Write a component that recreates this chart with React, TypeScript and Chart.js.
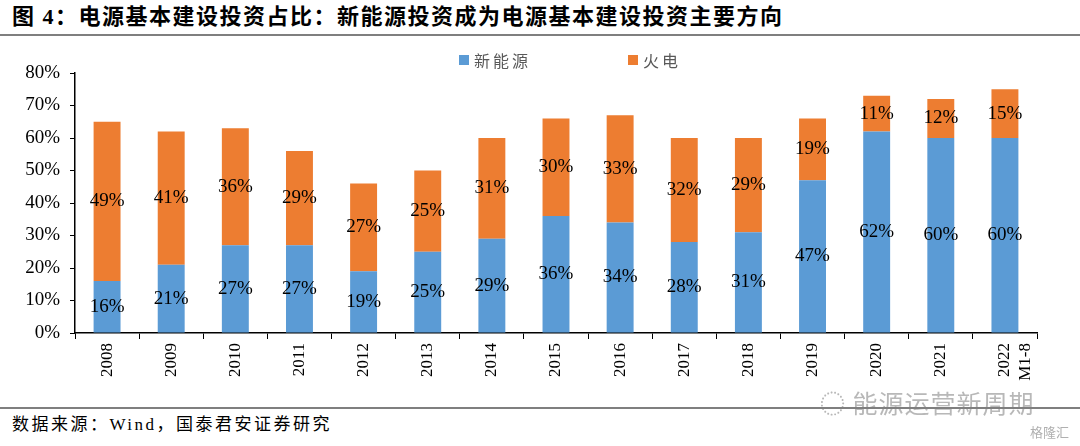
import React, { useEffect, useRef } from "react";
import { Chart, registerables } from "chart.js";

Chart.register(...registerables);

const categories: (string | string[])[] = [
  "2008", "2009", "2010", "2011", "2012", "2013", "2014", "2015",
  "2016", "2017", "2018", "2019", "2020", "2021", ["2022", "M1-8"],
];
const newEnergy = [16, 21, 27, 27, 19, 25, 29, 36, 34, 28, 31, 47, 62, 60, 60];
const thermal = [49, 41, 36, 29, 27, 25, 31, 30, 33, 32, 29, 19, 11, 12, 15];
const seriesNames = ["新能源", "火电"];
const seriesColors = ["#5B9BD5", "#ED7D31"];
const yMin = 0;
const yMax = 80;
const yStep = 10;

const serif = '"Liberation Serif", "Times New Roman", serif';
const cjk = '"Liberation Serif", "Noto Sans CJK SC", sans-serif';

const valueLabels = {
  id: "valueLabels",
  afterDatasetsDraw(chart: any) {
    const ctx = chart.ctx;
    ctx.save();
    ctx.font = `19px ${serif}`;
    ctx.fillStyle = "#000";
    ctx.textAlign = "center";
    ctx.textBaseline = "middle";
    chart.data.datasets.forEach((ds: any, i: number) => {
      const meta = chart.getDatasetMeta(i);
      meta.data.forEach((bar: any, j: number) => {
        const p = bar.getProps(["x", "y", "base"], true);
        ctx.fillText(`${ds.data[j]}%`, p.x, (p.y + p.base) / 2);
      });
    });
    ctx.restore();
  },
};

const customLegend = {
  id: "customLegend",
  afterDraw(chart: any) {
    const ctx = chart.ctx;
    const left = chart.chartArea.left;
    const starts = [left + 384, left + 553];
    const cy = 20;
    ctx.save();
    ctx.font = `16px "Noto Sans CJK SC", sans-serif`;
    ctx.textBaseline = "middle";
    ctx.textAlign = "left";
    (ctx as any).letterSpacing = "3px";
    chart.data.datasets.forEach((ds: any, i: number) => {
      const x = starts[i];
      ctx.fillStyle = ds.backgroundColor;
      ctx.fillRect(x, cy - 5, 10, 10);
      ctx.fillStyle = "#595959";
      ctx.fillText(ds.label, x + 15, cy + 1);
    });
    ctx.restore();
  },
};

export default function App() {
  const canvasRef = useRef<HTMLCanvasElement | null>(null);

  useEffect(() => {
    if (!canvasRef.current) return;
    const chart = new Chart(canvasRef.current, {
      type: "bar",
      data: {
        labels: categories,
        datasets: [
          { label: seriesNames[0], data: newEnergy, backgroundColor: seriesColors[0] },
          { label: seriesNames[1], data: thermal, backgroundColor: seriesColors[1] },
        ],
      },
      options: {
        animation: false,
        responsive: true,
        maintainAspectRatio: false,
        layout: { padding: { top: 33, right: 43, left: 0, bottom: 0 } },
        datasets: { bar: { categoryPercentage: 1, barPercentage: 0.42 } },
        plugins: { legend: { display: false }, tooltip: { enabled: false } },
        scales: {
          x: {
            stacked: true,
            offset: true,
            grid: {
              display: true,
              offset: true,
              drawOnChartArea: false,
              drawTicks: true,
              tickLength: 6,
              color: "#000",
            },
            border: { display: true, color: "#000", width: 1.5 },
            ticks: {
              color: "#000",
              font: { family: serif, size: 17 },
              maxRotation: 90,
              minRotation: 90,
              autoSkip: false,
              padding: 4,
            },
            afterFit(scale: any) {
              scale.height = 72;
            },
          },
          y: {
            stacked: true,
            min: yMin,
            max: yMax,
            grid: {
              display: true,
              drawOnChartArea: false,
              drawTicks: true,
              tickLength: 5,
              color: "#000",
            },
            border: { display: true, color: "#000", width: 1.5 },
            ticks: {
              stepSize: yStep,
              color: "#000",
              font: { family: serif, size: 19 },
              padding: 10,
              callback: (v: any) => `${v}%`,
            },
            afterFit(scale: any) {
              scale.width = 75;
            },
          },
        },
      },
      plugins: [valueLabels, customLegend],
    });
    return () => chart.destroy();
  }, []);

  return (
    <div
      style={{
        position: "absolute",
        left: 0,
        top: 0,
        width: 1080,
        height: 446,
        background: "#fff",
        overflow: "hidden",
      }}
    >
      <div
        style={{
          position: "absolute",
          left: 12,
          top: 4,
          fontFamily: cjk,
          fontWeight: "bold",
          fontSize: 22,
          letterSpacing: 1.5,
          color: "#000",
          whiteSpace: "nowrap",
          lineHeight: "26px",
        }}
      >
        图 4：电源基本建设投资占比：新能源投资成为电源基本建设投资主要方向
      </div>
      <div
        style={{ position: "absolute", left: 0, top: 34, width: 1080, height: 2, background: "#7f7f7f" }}
      />
      <div style={{ position: "absolute", left: 0, top: 40, width: 1080, height: 365 }}>
        <canvas ref={canvasRef} />
      </div>
      <div
        style={{
          position: "absolute",
          left: 820,
          top: 384,
          fontFamily: '"Noto Sans CJK SC", sans-serif',
          fontSize: 25,
          color: "#b8b8b8",
          whiteSpace: "nowrap",
          letterSpacing: 1,
        }}
      >
        ◌ 能源运营新周期
      </div>
      <div
        style={{ position: "absolute", left: 0, top: 407, width: 1080, height: 2, background: "#7f7f7f" }}
      />
      <div
        style={{
          position: "absolute",
          left: 12,
          top: 414,
          fontFamily: cjk,
          fontSize: 17,
          letterSpacing: 2.5,
          color: "#000",
          whiteSpace: "nowrap",
          lineHeight: "22px",
        }}
      >
        数据来源：Wind，国泰君安证券研究
      </div>
      <div
        style={{
          position: "absolute",
          left: 1030,
          top: 422,
          fontFamily: '"Noto Sans CJK SC", sans-serif',
          fontSize: 13,
          color: "#b0b0b0",
          whiteSpace: "nowrap",
        }}
      >
        格隆汇
      </div>
    </div>
  );
}
